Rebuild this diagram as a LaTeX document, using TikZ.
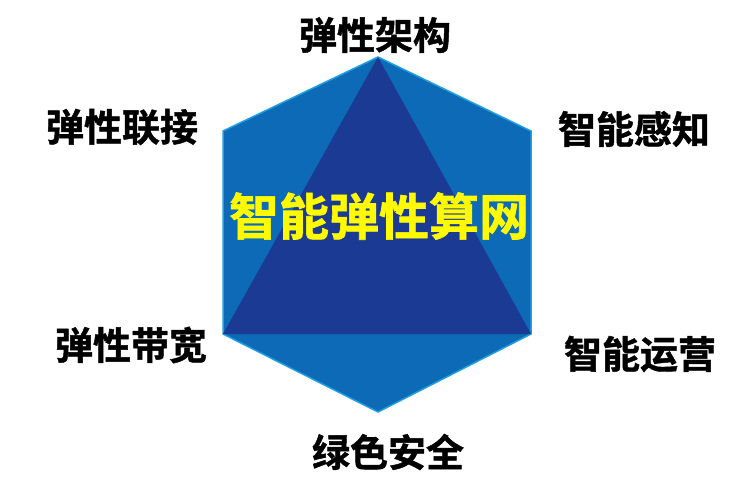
\documentclass[tikz,border=0pt]{standalone}
\usepackage{fontspec}
\newfontfamily\cjk{Noto Sans CJK SC Bold}[FakeBold=1.2]
\definecolor{hexfill}{RGB}{12,106,182}
\definecolor{trifill}{RGB}{27,58,148}
\definecolor{hexedge}{RGB}{30,160,225}
\definecolor{titleyellow}{RGB}{255,250,0}
\begin{document}
\begin{tikzpicture}[x=1pt,y=-1pt,
  lbl/.style={font=\cjk\fontsize{38}{42}\selectfont, text=black, inner sep=0pt},
  ttl/.style={font=\cjk\fontsize{50}{55}\selectfont, text=titleyellow, inner sep=0pt}]
\useasboundingbox (0,0) rectangle (744,498);
\coordinate (T) at (378,57);
\coordinate (UR) at (531,131);
\coordinate (LR) at (531,334);
\coordinate (B) at (378,412);
\coordinate (LL) at (223,334);
\coordinate (UL) at (223,131);
\fill[hexfill, draw=hexedge, line width=1.5pt, line join=miter] (T) -- (UR) -- (LR) -- (B) -- (LL) -- (UL) -- cycle;
\fill[trifill] (T) -- (LR) -- (LL) -- cycle;
\node[ttl] (title) at (379,216) {智能弹性算网};
\node[lbl] (top) at (375,35) {弹性架构};
\node[lbl] (ul) at (122,127) {弹性联接};
\node[lbl] (ur) at (634,129) {智能感知};
\node[lbl] (ll) at (131,345) {弹性带宽};
\node[lbl] (lr) at (640,354) {智能运营};
\node[lbl] (bot) at (388,452) {绿色安全};
\end{tikzpicture}
\end{document}
